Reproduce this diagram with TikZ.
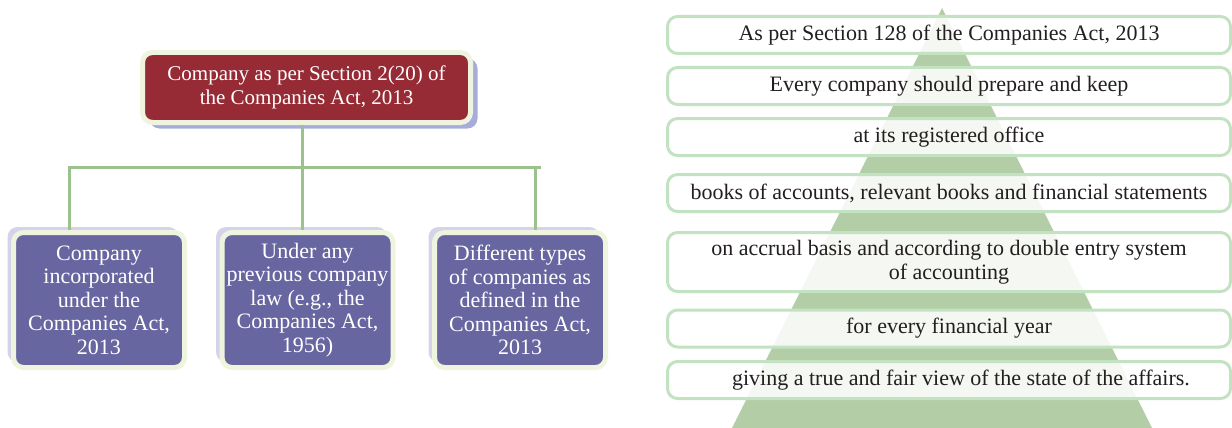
\documentclass[tikz,border=0pt]{standalone}
\usepackage{fontspec}
\setmainfont{Liberation Serif}
\usetikzlibrary{shadows}

\definecolor{redbox}{HTML}{962B35}
\definecolor{purplebox}{HTML}{6866A0}
\definecolor{paleedge}{HTML}{EEF4DE}
\definecolor{topshadow}{HTML}{A7ADDB}
\definecolor{sideshadow}{HTML}{D4D3EA}
\definecolor{linkgreen}{HTML}{9BC28C}
\definecolor{pyramid}{HTML}{B3CDA6}
\definecolor{stripedge}{HTML}{C2E2C2}
\definecolor{inktext}{HTML}{231F20}

\begin{document}
\begin{tikzpicture}[x=1pt, y=-1pt,
  every node/.style={font=\fontsize{22}{23.5}\selectfont},
  headbox/.style={draw=paleedge, line width=5pt, fill=redbox, text=white,
    font=\fontsize{21}{24}\selectfont,
    rounded corners=10pt, minimum width=328pt, minimum height=70pt, align=center,
    drop shadow={shadow xshift=7pt, shadow yshift=-6pt, fill=topshadow, opacity=1}},
  kidbox/.style={draw=paleedge, line width=5pt, fill=purplebox, text=white,
    rounded corners=10pt, minimum width=171pt, minimum height=135pt, align=center,
    inner sep=1pt,
    drop shadow={shadow xshift=-6pt, shadow yshift=5.5pt, fill=sideshadow, opacity=1}},
  link/.style={linkgreen, line width=3pt},
  strip/.style={draw=stripedge, line width=3pt, fill=white, fill opacity=0.86,
    text opacity=1, text=inktext, rounded corners=10pt,
    minimum width=563pt, minimum height=37pt, align=center}]

  \useasboundingbox (0,0) rectangle (1232,428);

  % Left: definition tree
  \node[headbox] (head) at (306.5,87.5) {Company as per Section 2(20) of\\the Companies Act, 2013};

  \node[kidbox] (kidA) at (99,300) {Company\\incorporated\\under the\\Companies Act,\\2013};
  \node[kidbox] (kidB) at (307.5,300) {Under any\\previous company\\law (e.g., the\\Companies Act,\\1956)};
  \node[kidbox] (kidC) at (520,300) {Different types\\of companies as\\defined in the\\Companies Act,\\2013};

  \draw[link] ([xshift=-4.5pt]head.south) -- ++(0,42) coordinate (hub);
  \draw[link] ([xshift=-30pt]kidA.north) -- ([xshift=-30pt]kidA.north |- hub)
    -- ([xshift=21pt]kidC.north |- hub);
  \draw[link] (hub) -- ([xshift=-5.5pt]kidB.north);
  \draw[link] ([xshift=15pt]kidC.north |- hub) -- ([xshift=15pt]kidC.north);

  % Right: pyramid behind the strips
  \fill[pyramid] (942,8) -- (732,428) -- (1152,428) -- cycle;

  \node[strip] (sect) at (949,35) {As per Section 128 of the Companies Act, 2013};
  \node[strip] (keep) at (949,86) {Every company should prepare and keep};
  \node[strip] (office) at (949,137) {at its registered office};
  \node[strip] (books) at (949,193) {books of accounts, relevant books and financial statements};
  \node[strip, minimum height=59pt] (accrual) at (949,262) {on accrual basis and according to double entry system\\of accounting};
  \node[strip] (year) at (949,328.5) {for every financial year};
  \node[strip] (view) at (949,380) {\hspace{24pt}giving a true and fair view of the state of the affairs.};
\end{tikzpicture}
\end{document}
